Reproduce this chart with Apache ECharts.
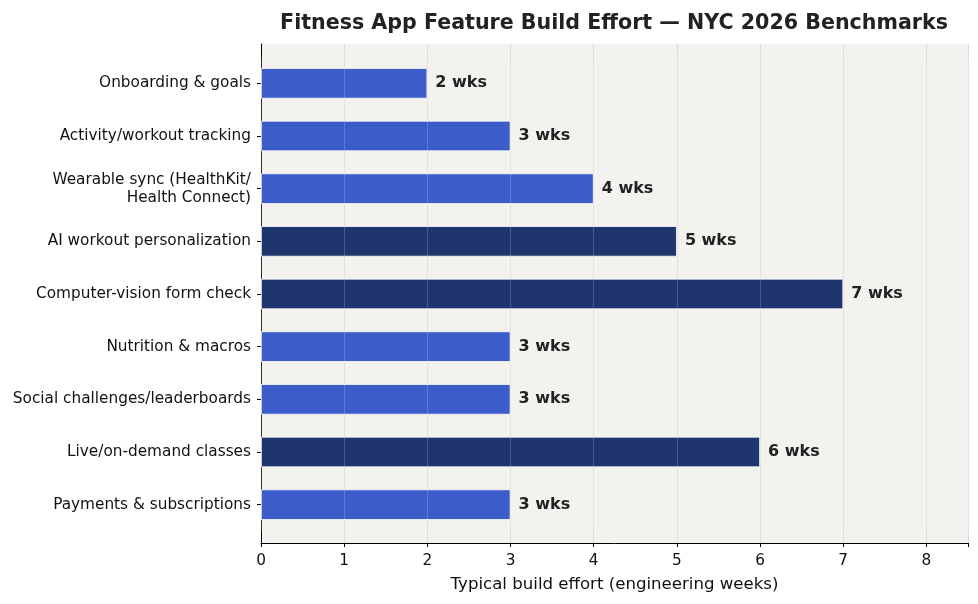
<!DOCTYPE html>
<html>
<head>
<meta charset="utf-8">
<script src="https://cdn.jsdelivr.net/npm/echarts@6/dist/echarts.min.js"></script>
<style>
  html, body { margin: 0; padding: 0; background: #fff; }
  #main { width: 978px; height: 604px; }
</style>
</head>
<body>
<div id="main"></div>
<script>
var categories = [
  'Onboarding & goals',
  'Activity/workout tracking',
  'Wearable sync (HealthKit/\nHealth Connect)',
  'AI workout personalization',
  'Computer-vision form check',
  'Nutrition & macros',
  'Social challenges/leaderboards',
  'Live/on-demand classes',
  'Payments & subscriptions'
]
var weeks = [2, 3, 4, 5, 7, 3, 3, 6, 3]
// features flagged as heavy builds (drawn darker)
var heavy = [false, false, false, true, true, false, false, true, false]
var xTicks = [0, 1, 2, 3, 4, 5, 6, 7, 8]

var font = 'DejaVu Sans'
var myChart = echarts.init(document.getElementById('main'));

var barData = weeks.map(function(v, i) {
  return {
    value: v,
    itemStyle: { color: heavy[i] ? '#1f356d' : '#3c5cca' }
  }
})

var option = {
  animation: false,
  textStyle: { fontFamily: font },
  title: {
    text: 'Fitness App Feature Build Effort \u2014 NYC 2026 Benchmarks',
    left: 609,
    textAlign: 'center',
    top: 8,
    textStyle: { fontFamily: font, fontSize: 20.6, fontWeight: 'bold', color: '#222' }
  },
  grid: [
    // frame grid: background, gridlines, spines
    { left: 261, right: 10, top: 44, bottom: 61, show: true, backgroundColor: '#f3f2ef', borderWidth: 0 },
    // bars grid (inset so categories keep matplotlib-like margins)
    { left: 261, right: 10, top: 57, bottom: 73 }
  ],
  xAxis: [
    {
      gridIndex: 0, type: 'value', min: 0, max: 8.5, interval: 1,
      axisLine: { show: true, lineStyle: { color: '#000', width: 1 } },
      axisTick: { show: true, length: 4, lineStyle: { color: '#000' } },
      axisLabel: {
        color: '#111', fontSize: 15.3, margin: 11, fontFamily: font,
        customValues: xTicks
      },
      splitLine: { show: true, lineStyle: { color: '#dddcd8', width: 1 } },
      name: 'Typical build effort (engineering weeks)',
      nameLocation: 'middle', nameGap: 33,
      nameTextStyle: { fontSize: 16.6, color: '#111', fontFamily: font }
    },
    {
      // faint gridline overlay drawn above the bars
      gridIndex: 1, type: 'value', min: 0, max: 8.5, interval: 1, z: 5,
      axisLine: { show: false }, axisTick: { show: false }, axisLabel: { show: false },
      splitLine: { show: true, lineStyle: { color: 'rgba(255,255,255,0.18)', width: 1 } }
    }
  ],
  yAxis: [
    {
      gridIndex: 0, type: 'value', min: 0, max: 1,
      axisLine: { show: true, lineStyle: { color: '#000', width: 1 } },
      axisTick: { show: false }, axisLabel: { show: false }, splitLine: { show: false }
    },
    {
      gridIndex: 1, type: 'category', data: categories, inverse: true,
      axisLine: { show: false },
      axisTick: { show: true, alignWithLabel: true, length: 4, lineStyle: { color: '#000' } },
      axisLabel: { color: '#111', fontSize: 15.3, margin: 10, fontFamily: font, align: 'right', lineHeight: 18, padding: [3, 0, 0, 0] },
      splitLine: { show: false }
    }
  ],
  series: [{
    type: 'bar',
    xAxisIndex: 1,
    yAxisIndex: 1,
    data: barData,
    barWidth: '58%',
    itemStyle: { borderColor: '#ffffff', borderWidth: 0.8 },
    label: {
      show: true,
      position: 'right',
      distance: 8,
      formatter: function(p) { return p.value + ' wks' },
      fontFamily: font,
      fontSize: 16,
      fontWeight: 'bold',
      color: '#222'
    }
  }]
};

myChart.setOption(option);
</script>
</body>
</html>
